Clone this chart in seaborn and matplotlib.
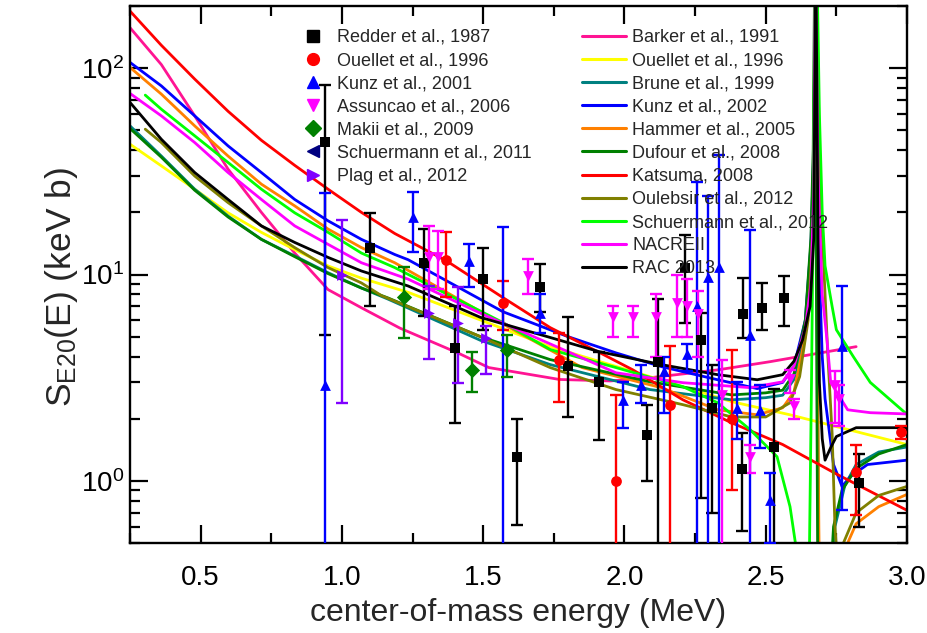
import numpy as np
import pandas as pd
import matplotlib
matplotlib.use("Agg")
import matplotlib.pyplot as plt
import seaborn as sns
from matplotlib.lines import Line2D

# ---------------- theory curves ----------------
barker_E = [0.25, 0.361, 0.479, 0.597, 0.715, 0.833, 0.951, 1.069, 1.205, 1.41, 1.52, 1.77, 1.95, 2.09, 2.33, 2.515, 2.82]
barker_S = [157, 104, 58.7, 32.4, 20, 12.7, 8.45, 6.9, 5.5, 4.17, 3.54, 3.1, 3.05, 3.16, 3.45, 3.78, 4.47]

ouellet_th_E = [0.25, 0.361, 0.479, 0.597, 0.715, 0.833, 0.951, 1.069, 1.234, 1.737, 2.09, 2.38, 2.586, 3.0]
ouellet_th_S = [42.8, 33.6, 25.9, 19.9, 16.0, 13.2, 11.0, 9.6, 8.2, 4.47, 3.2, 2.42, 2.09, 1.5]

brune_E = [0.25, 0.361, 0.479, 0.597, 0.715, 0.833, 0.951, 1.069, 1.163, 1.49, 1.737, 2.09, 2.38, 2.5, 2.56, 2.60, 2.64,
           2.66, 2.67, 2.676, 2.683, 2.688, 2.73, 2.745, 2.78, 2.82, 2.9, 3.0]
brune_S = [52.5, 37.5, 25.9, 19.2, 14.8, 12.3, 10.2, 8.6, 7.6, 4.8, 3.66, 2.77, 2.47, 2.53, 2.6, 3.1, 5.5,
           13, 35, 400, 5, 0.2, 0.2, 0.6, 0.95, 1.2, 1.38, 1.46]

kunz02_E = [0.25, 0.361, 0.479, 0.597, 0.715, 0.833, 0.951, 1.069, 1.187, 1.234, 1.57, 1.80, 1.97, 2.13, 2.33, 2.47,
            2.56, 2.60, 2.64, 2.66, 2.67, 2.676, 2.685, 2.69, 2.70, 2.71, 2.74, 2.77, 2.80, 2.86, 3.0]
kunz02_S = [106.6, 82, 58.7, 42, 31.2, 23.1, 18.2, 14.8, 12.5, 11.8, 6.6, 5.0, 4.17, 3.58, 3.09, 2.8,
            3.0, 3.6, 6, 14, 40, 400, 40, 10, 4, 2.5, 1.2, 0.94, 1.05, 1.2, 1.26]

hammer_E = [0.25, 0.361, 0.479, 0.597, 0.715, 0.833, 0.951, 1.069, 1.187, 1.5, 1.85, 2.13, 2.33, 2.47, 2.56, 2.60,
            2.64, 2.66, 2.67, 2.676, 2.683, 2.688, 2.692, 2.78, 2.79, 2.82, 2.9, 3.0]
hammer_S = [100.8, 74.8, 52.5, 37.5, 27.4, 21.5, 16.6, 13.5, 11.4, 6.5, 3.54, 2.83, 2.21, 2.09, 2.26, 2.7,
            5, 12, 35, 400, 5, 0.6, 0.2, 0.2, 0.5, 0.62, 0.75, 0.86]

dufour_E = [0.25, 0.361, 0.479, 0.597, 0.715, 0.833, 0.951, 1.069, 1.163, 1.49, 1.737, 2.09, 2.38, 2.5, 2.56, 2.60,
            2.64, 2.66, 2.668, 2.674, 2.680, 2.685, 2.72, 2.74, 2.77, 2.82, 2.9, 3.0]
dufour_S = [51, 37, 25.6, 19.0, 14.8, 12.2, 10.1, 8.6, 7.7, 5.0, 3.87, 3.02, 2.61, 2.67, 2.75, 3.3,
            6, 15, 40, 400, 5, 0.2, 0.2, 0.6, 0.9, 1.15, 1.35, 1.5]

katsuma_E = [0.25, 0.361, 0.479, 0.597, 0.715, 0.833, 0.951, 1.069, 1.187, 1.372, 1.57, 1.737, 1.914, 2.03, 2.207,
             2.38, 2.56, 2.75, 3.0]
katsuma_S = [189, 129, 88.5, 61.8, 44.7, 33.8, 25.9, 20.0, 15.8, 11.6, 7.73, 5.53, 4.17, 3.45, 2.47,
             1.91, 1.5, 1.08, 0.72]

oulebsir_E = [0.304, 0.361, 0.479, 0.597, 0.715, 0.833, 0.951, 1.069, 1.14, 1.49, 1.737, 1.97, 2.207, 2.38, 2.5,
              2.586, 2.62, 2.65, 2.67, 2.677, 2.69, 2.70, 2.72, 2.735, 2.745, 2.76, 2.775, 2.82, 2.9, 3.0]
oulebsir_S = [50.6, 43.6, 30, 22.3, 17.2, 13.5, 10.8, 9.1, 7.9, 5.0, 3.54, 2.77, 2.34, 2.04, 2.04,
              2.39, 3.2, 6, 20, 400, 40, 16, 4, 1.7, 0.6, 0.3, 0.5, 0.7, 0.85, 0.94]

schuer12_E = [0.304, 0.361, 0.479, 0.597, 0.715, 0.833, 0.951, 1.069, 1.187, 1.57, 1.737, 1.97, 2.207, 2.33, 2.445,
              2.54, 2.586, 2.61, 2.635, 2.655, 2.662, 2.668, 2.675, 2.68, 2.69, 2.70, 2.71, 2.735, 2.75, 2.81, 2.87, 3.0]
schuer12_S = [74, 63.2, 47, 34.9, 25.9, 19.9, 16, 12.7, 10.8, 5.85, 4.33, 3.54, 2.86, 2.39, 1.77,
              1.31, 0.75, 0.45, 0.2, 0.5, 3, 20, 400, 400, 60, 20, 11, 7, 5.4, 4.0, 3.0, 2.1]

nacre_E = [0.25, 0.361, 0.479, 0.597, 0.715, 0.833, 0.951, 1.069, 1.234, 1.5, 1.97, 2.207, 2.445, 2.56, 2.60, 2.64,
           2.66, 2.67, 2.676, 2.685, 2.70, 2.717, 2.73, 2.79, 2.87, 3.0]
nacre_S = [75.4, 58.7, 43.6, 31.2, 23.1, 17.2, 14.0, 11.4, 9.5, 6.4, 3.34, 2.99, 2.83, 3.02, 3.6, 5.5,
           9, 25, 400, 30, 8, 4.8, 3.0, 2.21, 2.14, 2.11]

rac_E = [0.25, 0.361, 0.479, 0.597, 0.715, 0.833, 0.951, 1.069, 1.234, 1.49, 1.74, 1.91, 2.13, 2.33, 2.47, 2.56,
         2.60, 2.63, 2.657, 2.67, 2.677, 2.685, 2.69, 2.70, 2.71, 2.73, 2.75, 2.82, 3.0]
rac_S = [68.2, 45.2, 31.2, 23.1, 17.2, 14.3, 12.1, 10.4, 8.8, 6.2, 4.94, 4.23, 3.66, 3.27, 3.09, 3.27,
         3.8, 4.8, 7.0, 15, 400, 15, 3.0, 1.6, 1.26, 1.45, 1.64, 1.81, 1.81]

curve_names = ["Barker et al., 1991", "Ouellet et al., 1996", "Brune et al., 1999", "Kunz et al., 2002",
               "Hammer et al., 2005", "Dufour et al., 2008", "Katsuma, 2008", "Oulebsir et al., 2012",
               "Schuermann et al., 2012", "NACREII", "RAC 2013"]
curve_colors = ["#ff1493", "#ffff00", "#008080", "#0000ff", "#ff8000", "#008000", "#ff0000",
                "#808000", "#00ff00", "#ff00ff", "#000000"]
curve_data = [(barker_E, barker_S), (ouellet_th_E, ouellet_th_S), (brune_E, brune_S), (kunz02_E, kunz02_S),
              (hammer_E, hammer_S), (dufour_E, dufour_S), (katsuma_E, katsuma_S), (oulebsir_E, oulebsir_S),
              (schuer12_E, schuer12_S), (nacre_E, nacre_S), (rac_E, rac_S)]

# ---------------- experimental data: E, S, lower end, upper end ----------------
redder_E = [0.94, 1.10, 1.29, 1.40, 1.50, 1.62, 1.70, 1.80, 1.91, 2.08, 2.12, 2.215, 2.27, 2.31, 2.416, 2.42, 2.487, 2.53, 2.565, 2.83]
redder_S = [44, 13.4, 11.4, 4.4, 9.5, 1.31, 8.7, 3.6, 3.0, 1.67, 3.78, 10.7, 4.8, 2.26, 1.14, 6.4, 6.85, 1.46, 7.7, 0.98]
redder_lo = [5.1, 7.0, 6.3, 1.91, 5.4, 0.61, 6.6, 2.04, 1.58, 1.0, 0.01, 5.85, 0.83, 0.70, 0.57, 4.95, 5.4, 0.01, 5.6, 0.6]
redder_hi = [83, 19.8, 16.7, 7.0, 13.5, 2.0, 11.2, 6.25, 4.23, 2.34, 7.6, 15.6, 6.5, 3.66, 1.71, 9.6, 9.1, 2.8, 9.8, 1.35]

ouellet_E = [1.37, 1.57, 1.77, 1.97, 2.16, 2.38, 2.82, 2.98]
ouellet_S = [11.8, 7.3, 3.87, 1.0, 2.34, 2.0, 1.1, 1.72]
ouellet_lo = [7.8, 5.4, 2.4, 0.01, 0.01, 0.9, 0.68, 1.6]
ouellet_hi = [16, 9.35, 5.2, 2.6, 4.5, 4.3, 1.5, 1.85]

kunz01_E = [0.94, 1.25, 1.45, 1.57, 1.70, 1.995, 2.06, 2.14, 2.22, 2.257, 2.296, 2.335, 2.40, 2.445, 2.48, 2.515, 2.77]
kunz01_S = [2.9, 19.1, 11.6, 0.45, 6.5, 2.47, 2.9, 3.4, 4.1, 7.0, 9.7, 10.9, 2.25, 5.1, 2.2, 0.81, 4.5]
kunz01_lo = [0.01, 12.8, 8.7, 0.01, 5.2, 1.8, 2.39, 2.14, 3.4, 0.01, 0.01, 0.01, 1.6, 0.01, 1.45, 0.5, 0.72]
kunz01_hi = [24.7, 25, 14.1, 16.9, 8.0, 3.0, 3.66, 4.0, 4.6, 28, 24, 38, 3.0, 16.5, 2.9, 1.09, 8.8]

assuncao_E = [1.31, 1.34, 1.66, 1.96, 2.03, 2.11, 2.185, 2.22, 2.26, 2.345, 2.445, 2.586, 2.60, 2.745, 2.76]
assuncao_S = [12.1, 12.2, 9.8, 6.2, 6.2, 6.2, 7.3, 7.0, 6.4, 2.6, 1.31, 3.1, 2.3, 2.9, 2.5]
assuncao_lo = [8.5, 8.5, 8.0, 5.0, 5.0, 4.0, 5.0, 5.0, 4.0, 0.01, 1.09, 2.67, 2.0, 1.9, 1.85]
assuncao_hi = [17.1, 16.2, 11.9, 7.0, 7.0, 8.0, 10.0, 9.5, 8.3, 3.87, 1.5, 3.45, 2.5, 3.4, 2.9]

makii_E = [1.22, 1.46, 1.585]
makii_S = [7.8, 3.45, 4.3]
makii_lo = [4.9, 2.7, 3.2]
makii_hi = [10.9, 4.2, 5.1]

plag_E = [1.00, 1.31, 1.41, 1.51]
plag_S = [10.0, 6.5, 5.85, 4.9]
plag_lo = [2.39, 3.9, 2.99, 3.3]
plag_hi = [18.3, 8.8, 8.7, 5.6]

exp_sets = [
    ("Redder et al., 1987", "s", "#000000", redder_E, redder_S, redder_lo, redder_hi),
    ("Ouellet et al., 1996", "o", "#ff0000", ouellet_E, ouellet_S, ouellet_lo, ouellet_hi),
    ("Kunz et al., 2001", "^", "#0000ff", kunz01_E, kunz01_S, kunz01_lo, kunz01_hi),
    ("Assuncao et al., 2006", "v", "#ff00ff", assuncao_E, assuncao_S, assuncao_lo, assuncao_hi),
    ("Makii et al., 2009", "D", "#008000", makii_E, makii_S, makii_lo, makii_hi),
    ("Schuermann et al., 2011", "<", "#000080", [], [], [], []),
    ("Plag et al., 2012", ">", "#8000ff", plag_E, plag_S, plag_lo, plag_hi),
]

# ---------------- figure ----------------
sns.set_theme(style="ticks")
plt.rcParams["font.family"] = ["Liberation Sans", "DejaVu Sans"]
plt.rcParams["mathtext.fontset"] = "custom"
plt.rcParams["mathtext.rm"] = "Liberation Sans"
plt.rcParams["mathtext.it"] = "Liberation Sans:italic"

fig = plt.figure(figsize=(9.28, 6.33), dpi=100)
ax = fig.add_axes([130 / 928, 1 - 543 / 633, (907 - 130) / 928, (543 - 6) / 633])

rows = []
for name, (E, S) in zip(curve_names, curve_data):
    for i, (e, s) in enumerate(zip(E, S)):
        rows.append({"E": e, "S": s, "model": name, "i": i})
curves = pd.DataFrame(rows)
sns.lineplot(data=curves, x="E", y="S", hue="model", hue_order=curve_names,
             palette=dict(zip(curve_names, curve_colors)), sort=False, estimator=None,
             linewidth=2.0, legend=False, ax=ax, zorder=2)

for name, mk, col, E, S, lo, hi in exp_sets:
    if len(E) == 0:
        continue
    E = np.array(E); S = np.array(S); lo = np.array(lo); hi = np.array(hi)
    ax.errorbar(E, S, yerr=[S - lo, hi - S], fmt="none", ecolor=col, elinewidth=1.7,
                capsize=4.5, capthick=1.7, zorder=3)
    sns.scatterplot(x=E, y=S, marker=mk, color=col, s=60, edgecolor=col, linewidth=0,
                    ax=ax, zorder=4, legend=False)

ax.set_yscale("log")
ax.set_xlim(0.25, 3.0)
ax.set_ylim(0.5, 200)
ax.set_xticks([0.5, 1.0, 1.5, 2.0, 2.5, 3.0])
ax.set_xticklabels(["0.5", "1.0", "1.5", "2.0", "2.5", "3.0"])
ax.set_xticks(np.arange(0.25, 3.01, 0.25), minor=True)
ax.tick_params(which="both", direction="in", top=True, right=True, width=1.6, colors="black",
               labelsize=20)
ax.tick_params(which="major", length=13)
ax.tick_params(which="minor", length=7)
ax.tick_params(axis="x", which="major", pad=16)
ax.tick_params(axis="y", which="major", pad=4)
for sp in ax.spines.values():
    sp.set_linewidth(1.7)
    sp.set_color("black")

ax.set_xlabel("center-of-mass energy (MeV)", fontsize=23)
ax.xaxis.set_label_coords(0.5, -0.102)
ax.set_ylabel(r"S$_{\mathrm{E20}}$(E) (keV b)", fontsize=25.5)
ax.yaxis.set_label_coords(-0.064, 0.477)

# legends
h1 = [Line2D([], [], marker=mk, color=col, linestyle="none", markersize=8.5) for _, mk, col, *_ in exp_sets]
l1 = [n for n, *_ in exp_sets]
leg1 = ax.legend(h1, l1, loc="upper left", bbox_to_anchor=(304 / 928, 1 - 29 / 633),
                 bbox_transform=fig.transFigure, frameon=False, fontsize=13,
                 handlelength=1.0, handletextpad=0.83, labelspacing=0.34, borderpad=0, borderaxespad=0)
ax.add_artist(leg1)
h2 = [Line2D([], [], color=c, linewidth=2.2) for c in curve_colors]
leg2 = ax.legend(h2, curve_names, loc="upper left", bbox_to_anchor=(582 / 928, 1 - 29 / 633),
                 bbox_transform=fig.transFigure, frameon=False, fontsize=13,
                 handlelength=2.44, handletextpad=0.33, labelspacing=0.34, borderpad=0, borderaxespad=0)

fig.savefig("out.png", dpi=100)
